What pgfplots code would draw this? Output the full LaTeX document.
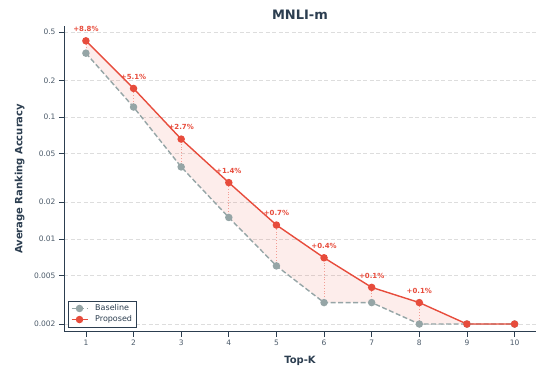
\documentclass[border=0pt]{standalone}
\usepackage{fontspec}
\setmainfont{DejaVu Sans}
\usepackage{pgfplots}
\pgfplotsset{compat=1.18}
\definecolor{cred}{HTML}{E74C3C}
\definecolor{cgrey}{HTML}{95A5A6}
\definecolor{cnavy}{HTML}{2C3E50}
\definecolor{cgrid}{HTML}{DDDDDD}
\begin{document}
\begin{tikzpicture}
\useasboundingbox (0bp,0bp) rectangle (537bp,372bp);
\begin{axis}[
  at={(64bp,40.3bp)}, anchor=south west,
  scale only axis, width=472bp, height=305.7bp,
  ymode=log, xmin=0.54, xmax=10.45, ymin=0.00173, ymax=0.56,
  axis x line*=bottom, axis y line*=left,
  axis line style={-, cnavy, line width=0.9bp},
  xtick={1,2,3,4,5,6,7,8,9,10},
  ytick={0.002,0.005,0.01,0.02,0.05,0.1,0.2,0.5},
  yticklabels={0.002,0.005,0.01,0.02,0.05,0.1,0.2,0.5},
  yminorticks=false, xminorticks=false,
  tick align=outside, major tick length=5bp,
  tick style={cnavy, line width=0.8bp},
  ticklabel style={font=\fontsize{7.5bp}{9bp}\selectfont, text=cnavy!85},
  /pgf/number format/assume math mode=true,
  ymajorgrids, major grid style={cgrid, dash pattern=on 4bp off 2.5bp, line width=0.8bp},
  title={MNLI-m},
  title style={font=\bfseries\fontsize{13bp}{15bp}\selectfont, text=cnavy, at={(0.5,1.0025)}, anchor=base, inner sep=0pt},
  xlabel={Top-K},
  xlabel style={font=\bfseries\fontsize{10bp}{12bp}\selectfont, text=cnavy, at={(0.5,-0.1025)}, anchor=base, inner sep=0pt},
  ylabel={Average Ranking Accuracy},
  ylabel style={font=\bfseries\fontsize{10bp}{12bp}\selectfont, text=cnavy, at={(-0.0884,0.5)}, anchor=base, inner sep=0pt},
  legend style={at={(0.0085,0.015)}, anchor=south west, draw=cnavy, line width=0.6bp,
    font=\fontsize{8bp}{9.5bp}\selectfont, text=cnavy, fill=white, inner xsep=2.5bp, inner ysep=1.5bp, row sep=-0.5bp},
  legend cell align=left,
  legend image code/.code={\draw[mark repeat=2,mark phase=2,#1] plot coordinates {(0bp,0bp) (8bp,0bp) (16bp,0bp)}; \path (21bp,0bp);},
]
% shaded band between the two series
\addplot[fill=cred, fill opacity=0.1, draw=none, forget plot] coordinates {
 (1,0.423) (2,0.172) (3,0.066) (4,0.029) (5,0.013) (6,0.007) (7,0.004) (8,0.003) (9,0.002) (10,0.002)
 (10,0.002) (9,0.002) (8,0.002) (7,0.003) (6,0.003) (5,0.006) (4,0.015) (3,0.039) (2,0.121) (1,0.335)} -- cycle;
% dotted connectors
\addplot[cred!55, dotted, line width=0.8bp, forget plot] coordinates {(1,0.335) (1,0.423)};
\addplot[cred!55, dotted, line width=0.8bp, forget plot] coordinates {(2,0.121) (2,0.172)};
\addplot[cred!55, dotted, line width=0.8bp, forget plot] coordinates {(3,0.039) (3,0.066)};
\addplot[cred!55, dotted, line width=0.8bp, forget plot] coordinates {(4,0.015) (4,0.029)};
\addplot[cred!55, dotted, line width=0.8bp, forget plot] coordinates {(5,0.006) (5,0.013)};
\addplot[cred!55, dotted, line width=0.8bp, forget plot] coordinates {(6,0.003) (6,0.007)};
\addplot[cred!55, dotted, line width=0.8bp, forget plot] coordinates {(7,0.003) (7,0.004)};
\addplot[cred!55, dotted, line width=0.8bp, forget plot] coordinates {(8,0.002) (8,0.003)};
% series
\addplot[cgrey, line width=1.4bp, dash pattern=on 5bp off 2.5bp, mark=*, mark size=3bp, mark options={solid, fill=cgrey, draw=cgrey}] coordinates {
 (1,0.335) (2,0.121) (3,0.039) (4,0.015) (5,0.006) (6,0.003) (7,0.003) (8,0.002) (9,0.002) (10,0.002)};
\addlegendentry{Baseline}
\addplot[cred, line width=1.4bp, mark=*, mark size=3bp, mark options={solid, fill=cred, draw=cred}] coordinates {
 (1,0.423) (2,0.172) (3,0.066) (4,0.029) (5,0.013) (6,0.007) (7,0.004) (8,0.003) (9,0.002) (10,0.002)};
\addlegendentry{Proposed}
% annotations
\addplot[only marks, mark=*, mark size=0pt, mark options={draw=none, fill=none}, forget plot, nodes near coords, point meta=explicit symbolic,
  nodes near coords style={font=\bfseries\fontsize{7bp}{8bp}\selectfont, text=cred, anchor=base, inner sep=0pt, yshift=9.3bp}]
 table[meta=lab] {
x y lab
1 0.423 +8.8\%
2 0.172 +5.1\%
3 0.066 +2.7\%
4 0.029 +1.4\%
5 0.013 +0.7\%
6 0.007 +0.4\%
7 0.004 +0.1\%
8 0.003 +0.1\%
};
\end{axis}
\end{tikzpicture}
\end{document}
